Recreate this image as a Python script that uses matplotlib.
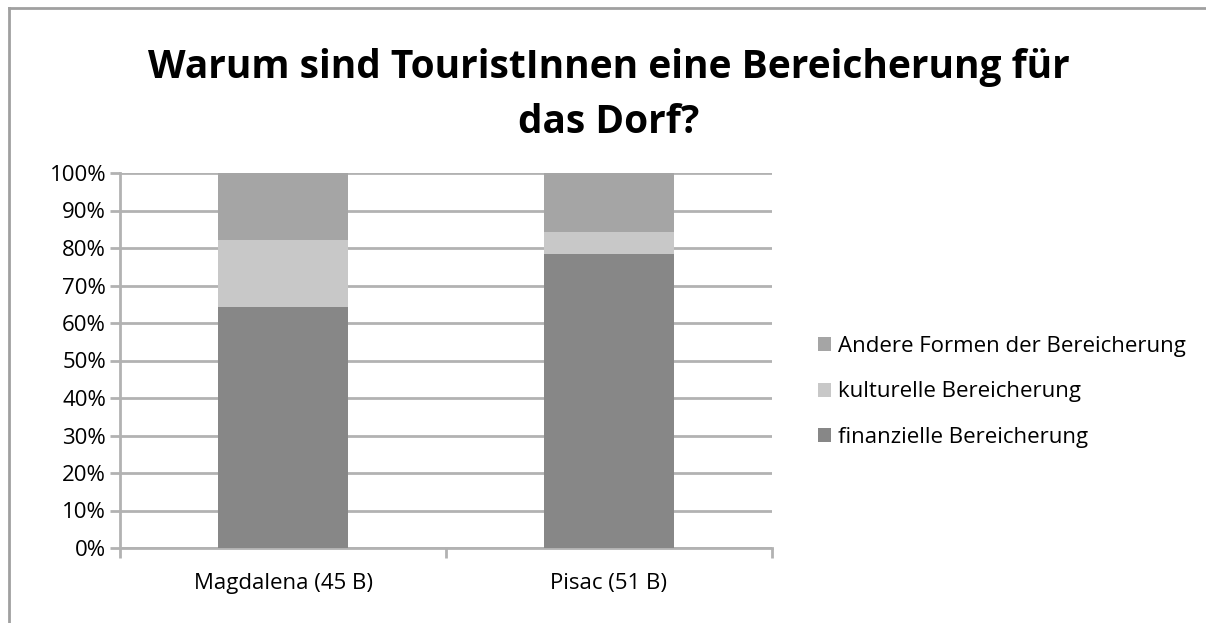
import numpy as np
import matplotlib.pyplot as plt
from matplotlib.lines import Line2D

# data (share of answers, percent)
places = ['Magdalena (45 B)', 'Pisac (51 B)']
finanziell = [64.4, 78.4]
kulturell = [17.8, 5.9]
andere = [17.8, 15.7]
yticks = np.arange(0, 101, 10)

plt.rcParams['font.family'] = ['Open Sans', 'DejaVu Sans']

fig = plt.figure(figsize=(12.06, 6.23), dpi=100)
ax = fig.add_axes([120 / 1206, 1 - 548 / 623, 652 / 1206, 375 / 623])

grid_col = '#b2b2b2'
x = np.arange(len(places))
w = 0.4
b1 = ax.bar(x, finanziell, w, color='#878787', zorder=3, label='finanzielle Bereicherung')
b2 = ax.bar(x, kulturell, w, bottom=finanziell, color='#c8c8c8', zorder=3,
            label='kulturelle Bereicherung')
bottom2 = np.array(finanziell) + np.array(kulturell)
b3 = ax.bar(x, andere, w, bottom=bottom2, color='#a5a5a5', zorder=3,
            label='Andere Formen der Bereicherung')

ax.set_xlim(-0.5, 1.5)
ax.set_ylim(0, 100)
ax.set_yticks(yticks)
ax.set_yticklabels([f'{v}%' for v in yticks], fontsize=16)
ax.set_xticks([-0.5, 0.5, 1.5])
ax.set_xticklabels([])
ax.set_xticks(x, minor=True)
ax.set_xticklabels(places, minor=True, fontsize=16)
ax.tick_params(axis='x', which='minor', length=0, pad=18)
ax.tick_params(axis='x', which='major', length=7, width=2, color=grid_col)
ax.tick_params(axis='y', length=7, width=2, color=grid_col, pad=3)
ax.yaxis.grid(True, color=grid_col, linewidth=2, zorder=0)

for s in ['top', 'right']:
    ax.spines[s].set_visible(False)
for s in ['left', 'bottom']:
    ax.spines[s].set_color(grid_col)
    ax.spines[s].set_linewidth(2)

ax.legend(handles=[b3, b2, b1], loc='center left', bbox_to_anchor=(1.04, 0.416),
          frameon=False, fontsize=16, handlelength=0.6, handleheight=0.6,
          handletextpad=0.3, labelspacing=1.1)

fig.text(0.505, 1 - 95 / 623, 'Warum sind TouristInnen eine Bereicherung für\ndas Dorf?',
         ha='center', va='center', fontsize=28, fontweight='bold', linespacing=1.55)

# outer frame (left and top only visible)
fig.add_artist(Line2D([9 / 1206, 9 / 1206], [0, 1 - 8 / 623], color='#a0a0a0', lw=2,
                      transform=fig.transFigure))
fig.add_artist(Line2D([9 / 1206, 1], [1 - 8 / 623, 1 - 8 / 623], color='#a0a0a0', lw=2,
                      transform=fig.transFigure))

fig.savefig('out.png', dpi=100)
